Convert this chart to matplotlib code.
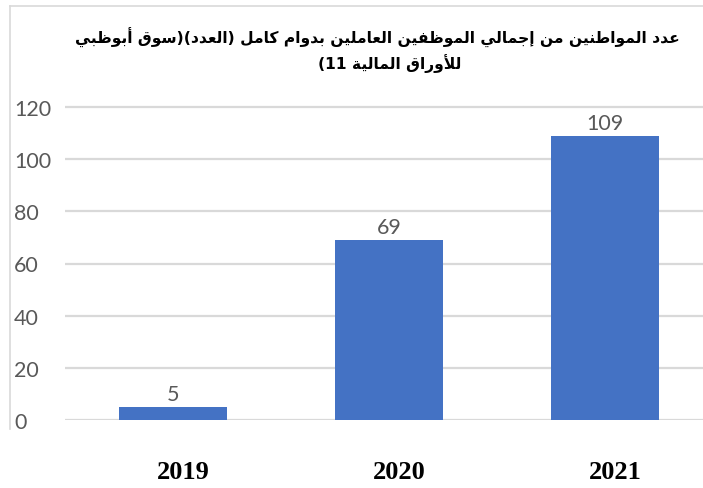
import re

import matplotlib
import matplotlib.pyplot as plt
from matplotlib.lines import Line2D
from matplotlib.transforms import Bbox, ScaledTranslation, TransformedBbox

matplotlib.use("Agg")

# --- Data ---
years = ["2019", "2020", "2021"]
counts = [5, 69, 109]
y_ticks = [0, 20, 40, 60, 80, 100, 120]
title_lines = [
    "عدد المواطنين من إجمالي الموظفين العاملين بدوام كامل (العدد)(سوق أبوظبي",
    "للأوراق المالية 11)",
]

# --- Style ---
bar_color = "#4472C4"
grid_color = "#D9D9D9"
label_color = "#595959"
W, H = 703, 489  # pixels

# Arabic presentation forms: (isolated, final, initial, medial)
FORMS = {
    "\u0627": (0xFE8D, 0xFE8E),
    "\u0623": (0xFE83, 0xFE84),
    "\u0625": (0xFE87, 0xFE88),
    "\u062F": (0xFEA9, 0xFEAA),
    "\u0631": (0xFEAD, 0xFEAE),
    "\u0648": (0xFEED, 0xFEEE),
    "\u0629": (0xFE93, 0xFE94),
    "\u0628": (0xFE8F, 0xFE90, 0xFE91, 0xFE92),
    "\u062C": (0xFE9D, 0xFE9E, 0xFE9F, 0xFEA0),
    "\u0633": (0xFEB1, 0xFEB2, 0xFEB3, 0xFEB4),
    "\u0637": (0xFEC1, 0xFEC2, 0xFEC3, 0xFEC4),
    "\u0638": (0xFEC5, 0xFEC6, 0xFEC7, 0xFEC8),
    "\u0639": (0xFEC9, 0xFECA, 0xFECB, 0xFECC),
    "\u0641": (0xFED1, 0xFED2, 0xFED3, 0xFED4),
    "\u0642": (0xFED5, 0xFED6, 0xFED7, 0xFED8),
    "\u0643": (0xFED9, 0xFEDA, 0xFEDB, 0xFEDC),
    "\u0644": (0xFEDD, 0xFEDE, 0xFEDF, 0xFEE0),
    "\u0645": (0xFEE1, 0xFEE2, 0xFEE3, 0xFEE4),
    "\u0646": (0xFEE5, 0xFEE6, 0xFEE7, 0xFEE8),
    "\u064A": (0xFEF1, 0xFEF2, 0xFEF3, 0xFEF4),
}
LAM_ALEF = {"\u0627": (0xFEFB, 0xFEFC), "\u0623": (0xFEF7, 0xFEF8), "\u0625": (0xFEF9, 0xFEFA)}


def shape_arabic(text):
    """Minimal contextual shaping + visual reordering (no bidi lib available)."""
    units = []
    i = 0
    while i < len(text):
        c = text[i]
        if c == "\u0644" and i + 1 < len(text) and text[i + 1] in LAM_ALEF:
            units.append(("LA", text[i + 1]))
            i += 2
        else:
            units.append(("C", c))
            i += 1

    def joins_next(u):
        return u[0] == "C" and u[1] in FORMS and len(FORMS[u[1]]) == 4

    def joinable(u):
        return u[0] == "LA" or u[1] in FORMS

    out = []
    for k, u in enumerate(units):
        prev = units[k - 1] if k > 0 else None
        nxt = units[k + 1] if k + 1 < len(units) else None
        p = prev is not None and joins_next(prev) and joinable(u)
        n = nxt is not None and joins_next(u) and joinable(nxt)
        if u[0] == "LA":
            out.append(chr(LAM_ALEF[u[1]][1 if p else 0]))
        elif u[1] in FORMS:
            f = FORMS[u[1]]
            if len(f) == 2:
                out.append(chr(f[1] if p else f[0]))
            else:
                idx = 3 if (p and n) else 1 if p else 2 if n else 0
                out.append(chr(f[idx]))
        else:
            out.append(u[1])
    runs = re.findall(r"\d+|\D", "".join(out))
    mirror = {"(": ")", ")": "("}
    return "".join(mirror.get(r, r) for r in reversed(runs))


fig = plt.figure(figsize=(W / 100, H / 100), dpi=100)
fig.patch.set_facecolor("white")

# plot area in pixels: x from 65 (3 categories of 216 px, runs past right edge), y 0 -> 421, 120 -> 108
ymax = 122
px_per_unit = (421 - 108) / 120
ax_left, ax_bottom = 65, 421
ax_w, ax_h = 3 * 216, ymax * px_per_unit
ax = fig.add_axes([ax_left / W, (H - ax_bottom) / H, ax_w / W, ax_h / H])

x = range(len(years))
bars = ax.bar(x, counts, width=0.5, color=bar_color, zorder=2)
ax.bar_label(bars, labels=[str(c) for c in counts], padding=2,
             fontsize=15.5, color=label_color, family="Lato")

ax.set_xlim(-0.5, 2.5)
ax.set_ylim(0, ymax)
ax.set_yticks(y_ticks)
ax.set_xticks(list(x))
ax.set_xticklabels(years, family="Liberation Serif", fontweight="bold",
                   fontsize=19, color="black")
ax.grid(axis="y", color=grid_color, linewidth=1.6, zorder=0)
ax.set_axisbelow(True)
for s in ax.spines.values():
    s.set_visible(False)
ax.tick_params(axis="both", length=0)
ax.tick_params(axis="x", pad=29)
ax.tick_params(axis="y", pad=(ax_left - 14) * 0.72, labelsize=15.5, labelcolor=label_color)

# chart frame is cropped at y=430 px, the "0" label is cut there
clip = TransformedBbox(Bbox([[0, (H - 430) / H], [1, 1]]), fig.transFigure)
for lbl in ax.get_yticklabels():
    lbl.set_horizontalalignment("left")
    lbl.set_verticalalignment("center")
    lbl.set_family("Lato")
    lbl.set_clip_box(clip)
    lbl.set_clip_on(True)
    lbl.set_transform(lbl.get_transform() + ScaledTranslation(0, -2 / 100, fig.dpi_scale_trans))

shift = ScaledTranslation(10 / 100, 0, fig.dpi_scale_trans)
for lbl in ax.get_xticklabels():
    lbl.set_transform(lbl.get_transform() + shift)

# chart border (top and left, rest cropped)
fig.add_artist(Line2D([10 / W, 1], [1 - 7 / H, 1 - 7 / H], color=grid_color, lw=1.2))
fig.add_artist(Line2D([10 / W, 10 / W], [1 - 7 / H, 1 - 430 / H], color=grid_color, lw=1.2))

# title, line 1 fitted to ~605 px wide like the reference
t1 = fig.text(377 / W, 1 - 38 / H, shape_arabic(title_lines[0]), ha="center", va="center",
              fontsize=13, fontweight="bold", family=["DejaVu Sans"], color="black")
renderer = fig.canvas.get_renderer()
size = 13 * 605 / t1.get_window_extent(renderer).width
t1.set_fontsize(size)
fig.text(390 / W, 1 - 64 / H, shape_arabic(title_lines[1]), ha="center", va="center",
         fontsize=size, fontweight="bold", family=["DejaVu Sans"], color="black")

fig.savefig("out.png", dpi=100)
plt.close(fig)
